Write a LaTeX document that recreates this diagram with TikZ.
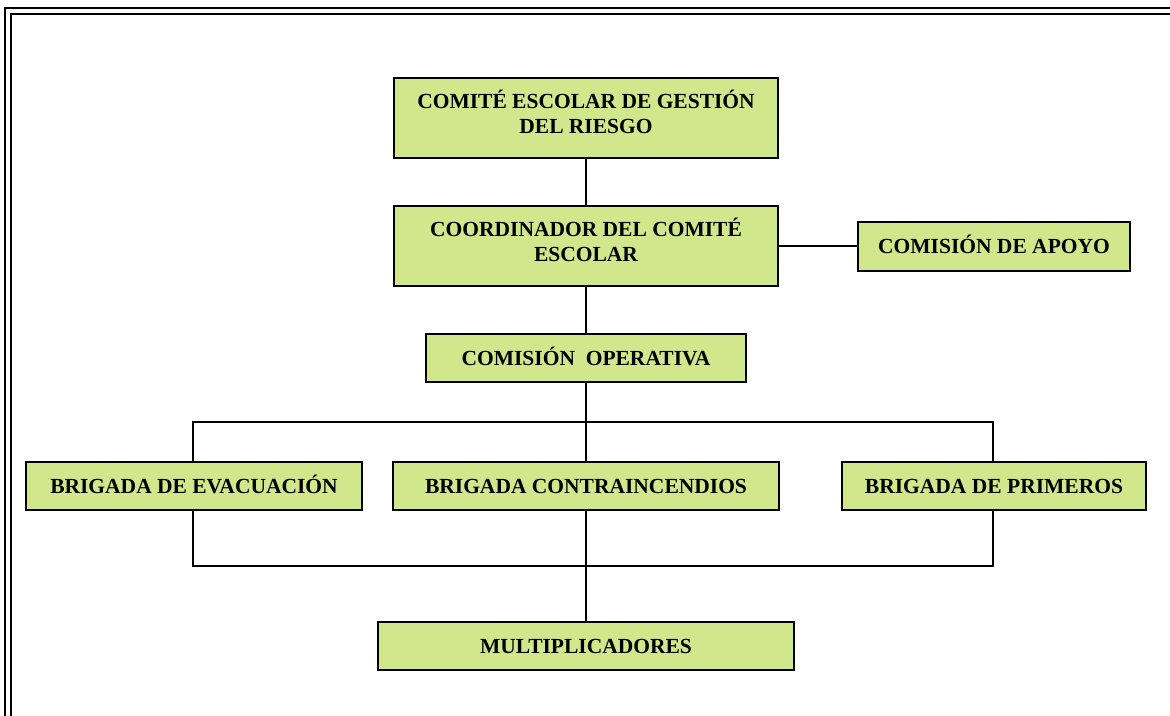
\documentclass[tikz,border=0pt]{standalone}
\usepackage{fontspec}
\setmainfont{Liberation Serif}
\usetikzlibrary{backgrounds}
\definecolor{boxgreen}{RGB}{209,231,139}
\tikzset{
  orgbox/.style={draw=black, line width=2pt, fill=boxgreen, rectangle, inner sep=0pt, outer sep=0pt,
    align=center, font=\fontsize{21.5}{25}\selectfont\bfseries, text=black,
    text height=15pt, text depth=0pt},
  twoline/.style={text height=39.5pt, text depth=9.5pt},
  link/.style={draw=black, line width=2pt},
  frameline/.style={draw=black, line width=2pt}
}
\begin{document}
\begin{tikzpicture}[x=1pt,y=-1pt]
\useasboundingbox (0,0) rectangle (1170,715);
\clip (0,0) rectangle (1170,715);
% page frame
\draw[frameline] (5,8) rectangle (1200,760);
\draw[frameline] (10.5,14) rectangle (1195,755);
% nodes
\node[orgbox, twoline, minimum width=384pt, minimum height=80pt] (comite) at (586,118) {COMITÉ ESCOLAR DE GESTIÓN\\DEL RIESGO};
\node[orgbox, twoline, minimum width=384pt, minimum height=80pt] (coord) at (586,246) {COORDINADOR DEL COMITÉ\\ESCOLAR};
\node[orgbox, minimum width=272pt, minimum height=49pt] (apoyo) at (994,246) {COMISIÓN DE APOYO};
\node[orgbox, minimum width=320pt, minimum height=48pt] (oper) at (586,358) {COMISIÓN\ \ OPERATIVA};
\node[orgbox, minimum width=336pt, minimum height=48pt] (evac) at (194,486) {BRIGADA DE EVACUACIÓN};
\node[orgbox, minimum width=386pt, minimum height=48pt] (contra) at (586,486) {BRIGADA CONTRAINCENDIOS};
\node[orgbox, minimum width=304pt, minimum height=48pt] (prim) at (994,486) {BRIGADA DE PRIMEROS};
\node[orgbox, minimum width=416pt, minimum height=48pt] (mult) at (586,646) {MULTIPLICADORES};
% bracket corners
\coordinate (tl) at (193,422);
\coordinate (tr) at (993,422);
\coordinate (bl) at (193,566);
\coordinate (br) at (993,566);
\begin{scope}[on background layer]
  \draw[link] (tl) -- (tr) -- (br) -- (bl) -- cycle;
  \draw[link] (comite) -- (coord);
  \draw[link] (coord) -- (oper);
  \draw[link] (oper) -- (contra);
  \draw[link] (contra) -- (mult);
  \draw[link] (coord) -- (apoyo);
\end{scope}
\end{tikzpicture}
\end{document}
